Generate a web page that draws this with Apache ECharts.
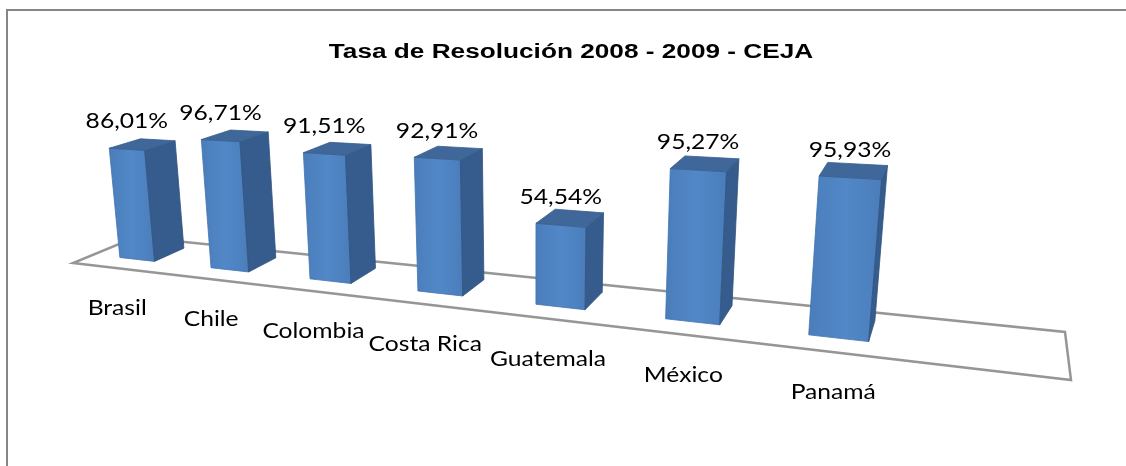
<!DOCTYPE html>
<html>
<head>
<meta charset="utf-8">
<script src="https://cdn.jsdelivr.net/npm/echarts@6/dist/echarts.min.js"></script>
<style>
html,body{margin:0;padding:0;background:#fff;}
#main{width:1126px;height:466px;}
</style>
</head>
<body>
<div id="main"></div>
<script>
// datos
var paises = ['Brasil', 'Chile', 'Colombia', 'Costa Rica', 'Guatemala', 'México', 'Panamá'];
var tasas = [86.01, 96.71, 91.51, 92.91, 54.54, 95.27, 95.93];
var titulo = 'Tasa de Resolución 2008 - 2009 - CEJA';

// piso en perspectiva: esquinas (frente-izq, frente-der, fondo-der, fondo-izq)
var piso = [[73, 263], [1071, 380], [1065, 332], [136, 237]];
var puntoFuga = [534, 4530];   // fuga de las verticales
var kAltura = 2.93e-4 / 3;     // por pixel de la grilla
var v0 = 0.31, v1 = 0.80;       // profundidad de las barras
var gridLeft = 100, anchoPiso = 1000;
var escalaX = 1.12;

// cuadrado unidad -> cuadrilatero
function cuadroAQuad(q){
	var x0=q[0][0],y0=q[0][1],x1=q[1][0],y1=q[1][1],x2=q[2][0],y2=q[2][1],x3=q[3][0],y3=q[3][1];
	var sx=x0-x1+x2-x3, sy=y0-y1+y2-y3;
	var dx1=x1-x2, dx2=x3-x2, dy1=y1-y2, dy2=y3-y2;
	var den=dx1*dy2-dx2*dy1;
	var g=(sx*dy2-dx2*sy)/den, h=(dx1*sy-sx*dy1)/den;
	return {a:x1-x0+g*x1, b:x3-x0+h*x3, c:x0, d:y1-y0+g*y1, e:y3-y0+h*y3, f:y0, g:g, h:h};
}
var H = cuadroAQuad(piso);

function proy(u, v, t){
	var X = H.a*u + H.b*v + H.c + puntoFuga[0]*t;
	var Y = H.d*u + H.e*v + H.f + puntoFuga[1]*t;
	var W = H.g*u + H.h*v + 1 + t;
	return [X/W, Y/W];
}

function formato(v){
	return v.toFixed(2).replace('.', ',') + '%';
}

function texto(p, str, font){
	return {
		type: 'text', x: p[0], y: p[1], scaleX: escalaX,
		style: {text: str, font: font, fill: '#000', align: 'center', verticalAlign: 'middle',
			textAlign: 'center', textVerticalAlign: 'middle'}
	};
}

function renderPiso(params, api){
	var pts = [proy(0,0,0), proy(1,0,0), proy(1,1,0), proy(0,1,0)];
	return {type:'polygon', shape:{points: pts},
		style:{fill:'#fff', stroke:'#969696', lineWidth:2.5, lineJoin:'miter'}};
}

function renderBarra(params, api){
	var i = api.value(0);
	var base = api.coord([i, 0]);
	var tope = api.coord([i, api.value(1)]);
	var banda = api.size([1, 0])[0];
	var uc = (base[0] - gridLeft) / anchoPiso;
	var hw = banda * 0.39 / 2 / anchoPiso;
	var uL = uc - hw, uR = uc + hw;
	var t = -(base[1] - tope[1]) * kAltura;

	var frente = [proy(uL,v0,0), proy(uR,v0,0), proy(uR,v0,t), proy(uL,v0,t)];
	var lado = [proy(uR,v0,0), proy(uR,v1,0), proy(uR,v1,t), proy(uR,v0,t)];
	var arriba = [proy(uL,v0,t), proy(uR,v0,t), proy(uR,v1,t), proy(uL,v1,t)];

	var pEtiq = proy(uc, v0, t);
	var pCat = proy(uc, 0, 0);

	return {type:'group', children:[
		{type:'polygon', shape:{points:frente}, style:{
			fill: new echarts.graphic.LinearGradient(0,0,1,0,[
				{offset:0, color:'#4A7DBA'},{offset:0.5, color:'#5288C8'},{offset:1, color:'#4A7DBA'}]),
			stroke:'#4174AF', lineWidth:0.8}},
		{type:'polygon', shape:{points:lado}, style:{fill:'#355C8C', stroke:'#30537F', lineWidth:0.8}},
		{type:'polygon', shape:{points:arriba}, style:{fill:'#3F6799', stroke:'#395E8C', lineWidth:0.8}},
		texto([pEtiq[0], pEtiq[1] - 28], formato(api.value(1)), '22px Lato'),
		texto([pCat[0], pCat[1] + 40], paises[i], '22px Lato')
	]};
}

var myChart = echarts.init(document.getElementById('main'));

var datos = [];
for(var i = 0; i < paises.length; i++){
	datos.push([i, tasas[i]]);
}

var option = {
	animation: false,
	backgroundColor: '#fff',
	grid: {left: gridLeft, right: 139, top: 50, height: 300},
	xAxis: {type:'category', data: paises, show: false},
	yAxis: {type:'value', min: 0, max: 100, show: false},
	graphic: [
		{type:'polyline', shape:{points:[[7,466],[7,10],[1126,10]]}, style:{stroke:'#868686', lineWidth:2, fill:null}},
		{type:'text', x: 571, y: 52, scaleX: 1.31, style:{text: titulo, font:'bold 20px "Liberation Sans"', fill:'#000',
			align:'center', verticalAlign:'middle', textAlign:'center', textVerticalAlign:'middle'}}
	],
	series: [
		{type:'custom', renderItem: renderPiso, data: [[0]], silent: true, z: 1},
		{type:'custom', renderItem: renderBarra, data: datos, z: 2}
	]
};

myChart.setOption(option);
</script>
</body>
</html>
